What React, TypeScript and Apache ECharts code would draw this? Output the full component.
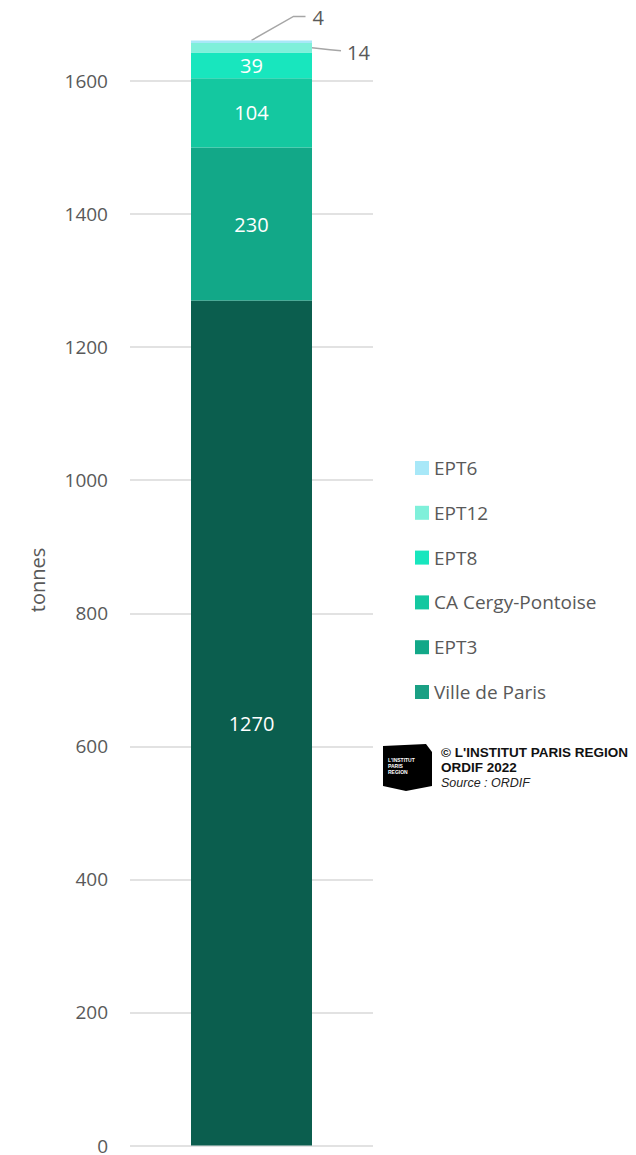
import React, { useEffect, useRef } from "react";
import * as echarts from "echarts";

const categories = ["Total"];
const seriesNames = ["Ville de Paris", "EPT3", "CA Cergy-Pontoise", "EPT8", "EPT12", "EPT6"];
const seriesValues = [1270, 230, 104, 39, 14, 4];
const seriesColors = ["#0b5e4e", "#12a888", "#14c8a0", "#18e6be", "#7ff0da", "#a8e8f8"];
const legendColors = ["#1aa084", "#12a888", "#14c8a0", "#18e6be", "#7ff0da", "#a8e8f8"];
const yTicks = { min: 0, max: 1600, interval: 200 };
const outsideLabelSeries = ["EPT12", "EPT6"];

const FONT = "'Open Sans', 'Noto Sans', sans-serif";
const GREY = "#595959";
const LINE = "#a6a6a6";

export default function App() {
  const ref = useRef<HTMLDivElement>(null);
  useEffect(() => {
    document.body.style.margin = "0";
    const chart = echarts.init(ref.current!, null, { renderer: "svg" });
    const series = seriesNames.map((name, i) => ({
      name,
      type: "bar",
      stack: "total",
      clip: false,
      barWidth: 121,
      data: [seriesValues[i]],
      itemStyle: { color: seriesColors[i] },
      label: {
        show: !outsideLabelSeries.includes(name),
        position: "inside",
        color: "#ffffff",
        fontSize: 20,
        fontFamily: FONT,
      },
    }));
    const staticGraphics: any[] = [
      {
        type: "text",
        x: 37,
        y: 580,
        rotation: Math.PI / 2,
        style: {
          text: "tonnes",
          fill: GREY,
          font: `20px ${FONT}`,
          align: "center",
          verticalAlign: "middle",
        },
      },
      {
        type: "polygon",
        shape: {
          points: [[383, 746], [426, 744], [432, 752], [432, 786], [406, 791], [383, 786]],
        },
        style: { fill: "#000000" },
      },
      {
        type: "text",
        x: 388,
        y: 757,
        style: {
          text: "L'INSTITUT\nPARIS\nREGION",
          fill: "#ffffff",
          font: "bold 5px 'Liberation Sans', Arial, sans-serif",
          lineHeight: 6,
        },
      },
      {
        type: "text",
        x: 441,
        y: 752,
        style: {
          text: "© L'INSTITUT PARIS REGION",
          fill: "#111111",
          font: "bold 13.5px 'Liberation Sans', Arial, sans-serif",
          verticalAlign: "middle",
        },
      },
      {
        type: "text",
        x: 441,
        y: 767,
        style: {
          text: "ORDIF 2022",
          fill: "#111111",
          font: "bold 13.5px 'Liberation Sans', Arial, sans-serif",
          verticalAlign: "middle",
        },
      },
      {
        type: "text",
        x: 441,
        y: 783,
        style: {
          text: "Source : ORDIF",
          fill: "#222222",
          font: "italic 12.5px 'Liberation Sans', Arial, sans-serif",
          verticalAlign: "middle",
        },
      },
    ];
    chart.setOption({
      animation: false,
      textStyle: { fontFamily: FONT },
      grid: { left: 130, right: 263, top: 81, bottom: 8 },
      legend: {
        orient: "vertical",
        left: 410,
        top: 453,
        itemWidth: 14,
        itemHeight: 14,
        itemGap: 24.8,
        icon: "rect",
        textStyle: { color: GREY, fontSize: 19, fontFamily: FONT, lineHeight: 20 },
        data: seriesNames
          .map((n, i) => ({ name: n, itemStyle: { color: legendColors[i] } }))
          .reverse(),
      },
      xAxis: {
        type: "category",
        data: categories,
        axisLine: { show: false },
        axisTick: { show: false },
        axisLabel: { show: false },
      },
      yAxis: {
        type: "value",
        min: yTicks.min,
        max: yTicks.max,
        interval: yTicks.interval,
        axisLabel: {
          color: GREY,
          fontSize: 19,
          fontFamily: FONT,
          margin: 22,
          formatter: (v: number) => String(v),
        },
        splitLine: { lineStyle: { color: "#d9d9d9", width: 1.5 } },
        axisLine: { show: false },
        axisTick: { show: false },
      },
      graphic: staticGraphics,
      series,
    });

    // Leader lines and outside labels for the small segments, placed via the axis scales
    const cat = categories[0];
    const cum = (idx: number) => seriesValues.slice(0, idx + 1).reduce((a, b) => a + b, 0);
    const i6 = seriesNames.indexOf("EPT6");
    const i12 = seriesNames.indexOf("EPT12");
    const top6 = chart.convertToPixel({ gridIndex: 0 }, [cat, cum(i6)]) as number[];
    const mid12 = chart.convertToPixel(
      { gridIndex: 0 },
      [cat, cum(i12) - seriesValues[i12] / 2]
    ) as number[];
    const halfBar = 60.5;
    const extra: any[] = [
      {
        type: "polyline",
        shape: {
          points: [
            [top6[0], top6[1]],
            [top6[0] + 42, top6[1] - 24],
            [top6[0] + 54, top6[1] - 24],
          ],
        },
        style: { stroke: LINE, lineWidth: 1.5, fill: "none" },
      },
      {
        type: "text",
        x: top6[0] + 61,
        y: top6[1] - 23,
        style: {
          text: String(seriesValues[i6]),
          fill: GREY,
          font: `20px ${FONT}`,
          verticalAlign: "middle",
        },
      },
      {
        type: "polyline",
        shape: {
          points: [
            [mid12[0] + halfBar, mid12[1]],
            [mid12[0] + halfBar + 18, mid12[1] + 2],
            [mid12[0] + halfBar + 29, mid12[1] + 3],
          ],
        },
        style: { stroke: LINE, lineWidth: 1.5, fill: "none" },
      },
      {
        type: "text",
        x: mid12[0] + halfBar + 35,
        y: mid12[1] + 5,
        style: {
          text: String(seriesValues[i12]),
          fill: GREY,
          font: `20px ${FONT}`,
          verticalAlign: "middle",
        },
      },
    ];
    chart.setOption({ graphic: staticGraphics.concat(extra) });
    return () => chart.dispose();
  }, []);
  return <div ref={ref} style={{ width: 636, height: 1155 }} />;
}
